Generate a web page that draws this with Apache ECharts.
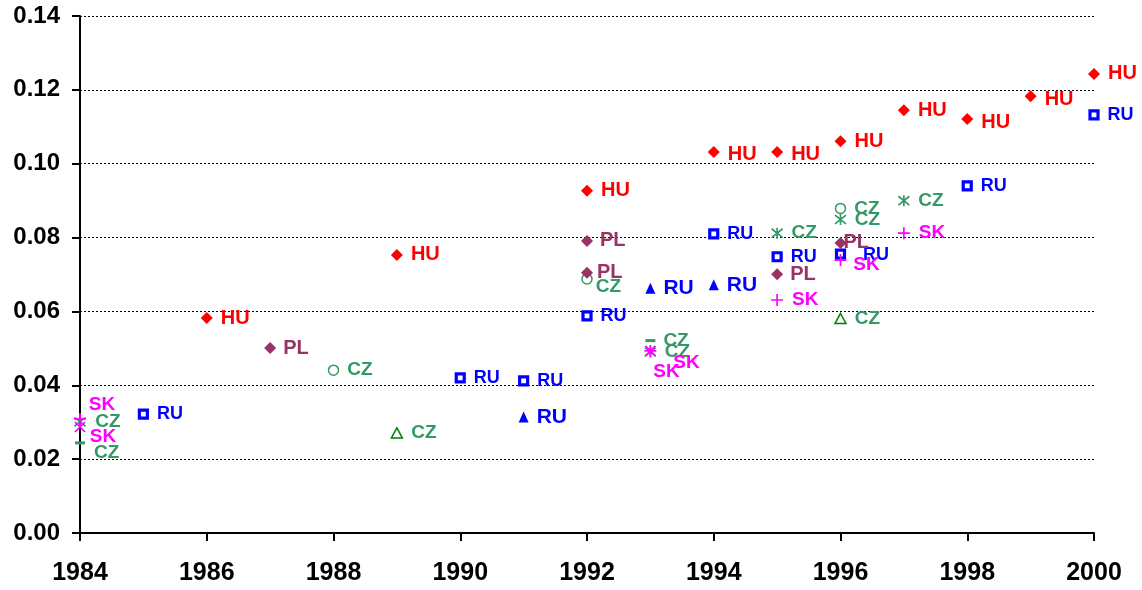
<!DOCTYPE html>
<html>
<head>
<meta charset="utf-8">
<script src="https://cdn.jsdelivr.net/npm/echarts@6/dist/echarts.min.js"></script>
<style>
html,body{margin:0;padding:0;background:#fff;}
#chart{width:1142px;height:590px;}
</style>
</head>
<body>
<div id="chart"></div>
<script>
// ---- data ----
const xTicks = [1984, 1986, 1988, 1990, 1992, 1994, 1996, 1998, 2000];
const yTicks = [0, 0.02, 0.04, 0.06, 0.08, 0.10, 0.12, 0.14];

const huYears  = [1986, 1989, 1992, 1994, 1995, 1996, 1997, 1998, 1999, 2000];
const huValues = [0.0582, 0.0753, 0.0927, 0.1032, 0.1032, 0.1061, 0.1145, 0.1121, 0.1183, 0.1243];

const plYears  = [1987, 1992, 1992, 1995, 1996];
const plValues = [0.0501, 0.0791, 0.0705, 0.0701, 0.0785];

const ruSqYears  = [1985, 1990, 1991, 1992, 1994, 1995, 1996, 1998, 2000];
const ruSqValues = [0.0322, 0.0420, 0.0412, 0.0588, 0.0810, 0.0748, 0.0755, 0.0940, 0.1132];

const ruTriYears  = [1991, 1993, 1994];
const ruTriValues = [0.0314, 0.0663, 0.0672];

const czCircYears  = [1988, 1992, 1996];
const czCircValues = [0.0441, 0.0688, 0.0879];

const czTriYears  = [1989, 1996];
const czTriValues = [0.0271, 0.0581];

const czStarYears  = [1984, 1993, 1995, 1996, 1997];
const czStarValues = [0.0301, 0.0490, 0.0812, 0.0849, 0.0900];

const czDashYears  = [1984, 1993];
const czDashValues = [0.0244, 0.0521];

const skPlusYears  = [1984, 1993, 1995, 1996, 1997];
const skPlusValues = [0.0309, 0.0493, 0.0631, 0.0739, 0.0812];

const skXYears  = [1984, 1993];
const skXValues = [0.0287, 0.0493];

// ---- styling (label nudges keyed by series id and point index) ----
const labelNudge = {
  skPlus: {0: [-6, -14], 1: [8, 12], 3: [-2, 5]},
  skX:    {0: [-4, 10], 1: [-11, 21]},
  czDash: {0: [1, 10]},
  czStar: {0: [1, 0]},
  czCirc: {1: [-5, 8]},
  pl:     {2: [-3, 0], 4: [-10, -1]},
  ruSq:   {6: [9, 1]},
  hu:     {3: [0, 3], 4: [0, 3], 7: [0, 3], 8: [0, 3]}
};

const FONT = 'Liberation Sans, Arial, sans-serif';

function pts(id, years, values) {
  return years.map((y, i) => {
    const item = {value: [y, values[i]]};
    const n = labelNudge[id] && labelNudge[id][i];
    if (n) item.label = {offset: n};
    return item;
  });
}

function mk(id, name, years, values, opts) {
  return {
    id: id,
    name: name,
    type: 'scatter',
    data: pts(id, years, values),
    symbol: opts.symbol,
    symbolSize: opts.size,
    itemStyle: Object.assign({opacity: 1}, opts.item),
    label: {
      show: true,
      position: 'right',
      distance: opts.dist != null ? opts.dist : 8,
      formatter: name,
      color: opts.textColor,
      fontFamily: FONT,
      fontWeight: 'bold',
      fontSize: opts.fontSize
    },
    emphasis: {disabled: true},
    z: opts.z || 2
  };
}

const RED = '#FF0000', PLC = '#993366', BLUE = '#0000FF', CZC = '#339966', CZT = '#008000', SKC = '#FF00FF';

const series = [
  mk('czStar', 'CZ', czStarYears, czStarValues, {
    symbol: 'path://M1,1L9,9M9,1L1,9M5,0L5,10', size: 11,
    item: {color: 'rgba(0,0,0,0)', borderColor: CZC, borderWidth: 1.7},
    textColor: CZC, fontSize: 19
  }),
  mk('czDash', 'CZ', czDashYears, czDashValues, {
    symbol: 'rect', size: [10, 3],
    item: {color: CZC}, textColor: CZC, fontSize: 19, dist: 8
  }),
  mk('czCirc', 'CZ', czCircYears, czCircValues, {
    symbol: 'circle', size: 10,
    item: {color: '#fff', borderColor: CZC, borderWidth: 1.5},
    textColor: CZC, fontSize: 19
  }),
  mk('czTri', 'CZ', czTriYears, czTriValues, {
    symbol: 'triangle', size: [11, 10],
    item: {color: '#fff', borderColor: CZT, borderWidth: 1.5},
    textColor: CZC, fontSize: 19
  }),
  mk('ruSq', 'RU', ruSqYears, ruSqValues, {
    symbol: 'rect', size: 8,
    item: {color: '#fff', borderColor: BLUE, borderWidth: 3.2},
    textColor: BLUE, fontSize: 18
  }),
  mk('ruTri', 'RU', ruTriYears, ruTriValues, {
    symbol: 'triangle', size: [10, 11],
    item: {color: BLUE}, textColor: BLUE, fontSize: 21
  }),
  mk('pl', 'PL', plYears, plValues, {
    symbol: 'diamond', size: [12, 12],
    item: {color: PLC}, textColor: PLC, fontSize: 20, dist: 7
  }),
  mk('hu', 'HU', huYears, huValues, {
    symbol: 'diamond', size: [12, 12],
    item: {color: RED}, textColor: RED, fontSize: 20, dist: 8
  }),
  mk('skPlus', 'SK', skPlusYears, skPlusValues, {
    symbol: 'path://M5,0L5,10M0,5L10,5', size: 12,
    item: {color: 'rgba(0,0,0,0)', borderColor: SKC, borderWidth: 1.7},
    textColor: SKC, fontSize: 19, z: 3
  }),
  mk('skX', 'SK', skXYears, skXValues, {
    symbol: 'path://M0,0L10,10M10,0L0,10', size: 10,
    item: {color: 'rgba(0,0,0,0)', borderColor: SKC, borderWidth: 1.7},
    textColor: SKC, fontSize: 19, z: 3
  })
];

const chart = echarts.init(document.getElementById('chart'), null, {renderer: 'canvas'});
chart.setOption({
  animation: false,
  backgroundColor: '#fff',
  grid: {left: 80, right: 48, top: 16, bottom: 57, containLabel: false},
  xAxis: {
    type: 'value',
    min: xTicks[0], max: xTicks[xTicks.length - 1], interval: 2,
    axisLine: {show: true, onZero: false, lineStyle: {color: '#000', width: 2}},
    axisTick: {show: true, inside: false, length: 8, lineStyle: {color: '#000', width: 2}},
    axisLabel: {
      color: '#000', fontFamily: FONT, fontWeight: 'bold', fontSize: 25, margin: 28,
      formatter: v => String(v)
    },
    splitLine: {show: false}
  },
  yAxis: {
    type: 'value',
    min: yTicks[0], max: yTicks[yTicks.length - 1], interval: 0.02,
    axisLine: {show: true, lineStyle: {color: '#000', width: 2}},
    axisTick: {show: true, inside: false, length: 8, lineStyle: {color: '#000', width: 2}},
    axisLabel: {
      color: '#000', fontFamily: FONT, fontWeight: 'bold', fontSize: 24, margin: 20,
      formatter: v => v.toFixed(2)
    },
    splitLine: {show: true, lineStyle: {color: '#000', width: 1, type: [2, 2]}}
  },
  series: series
});
</script>
</body>
</html>
